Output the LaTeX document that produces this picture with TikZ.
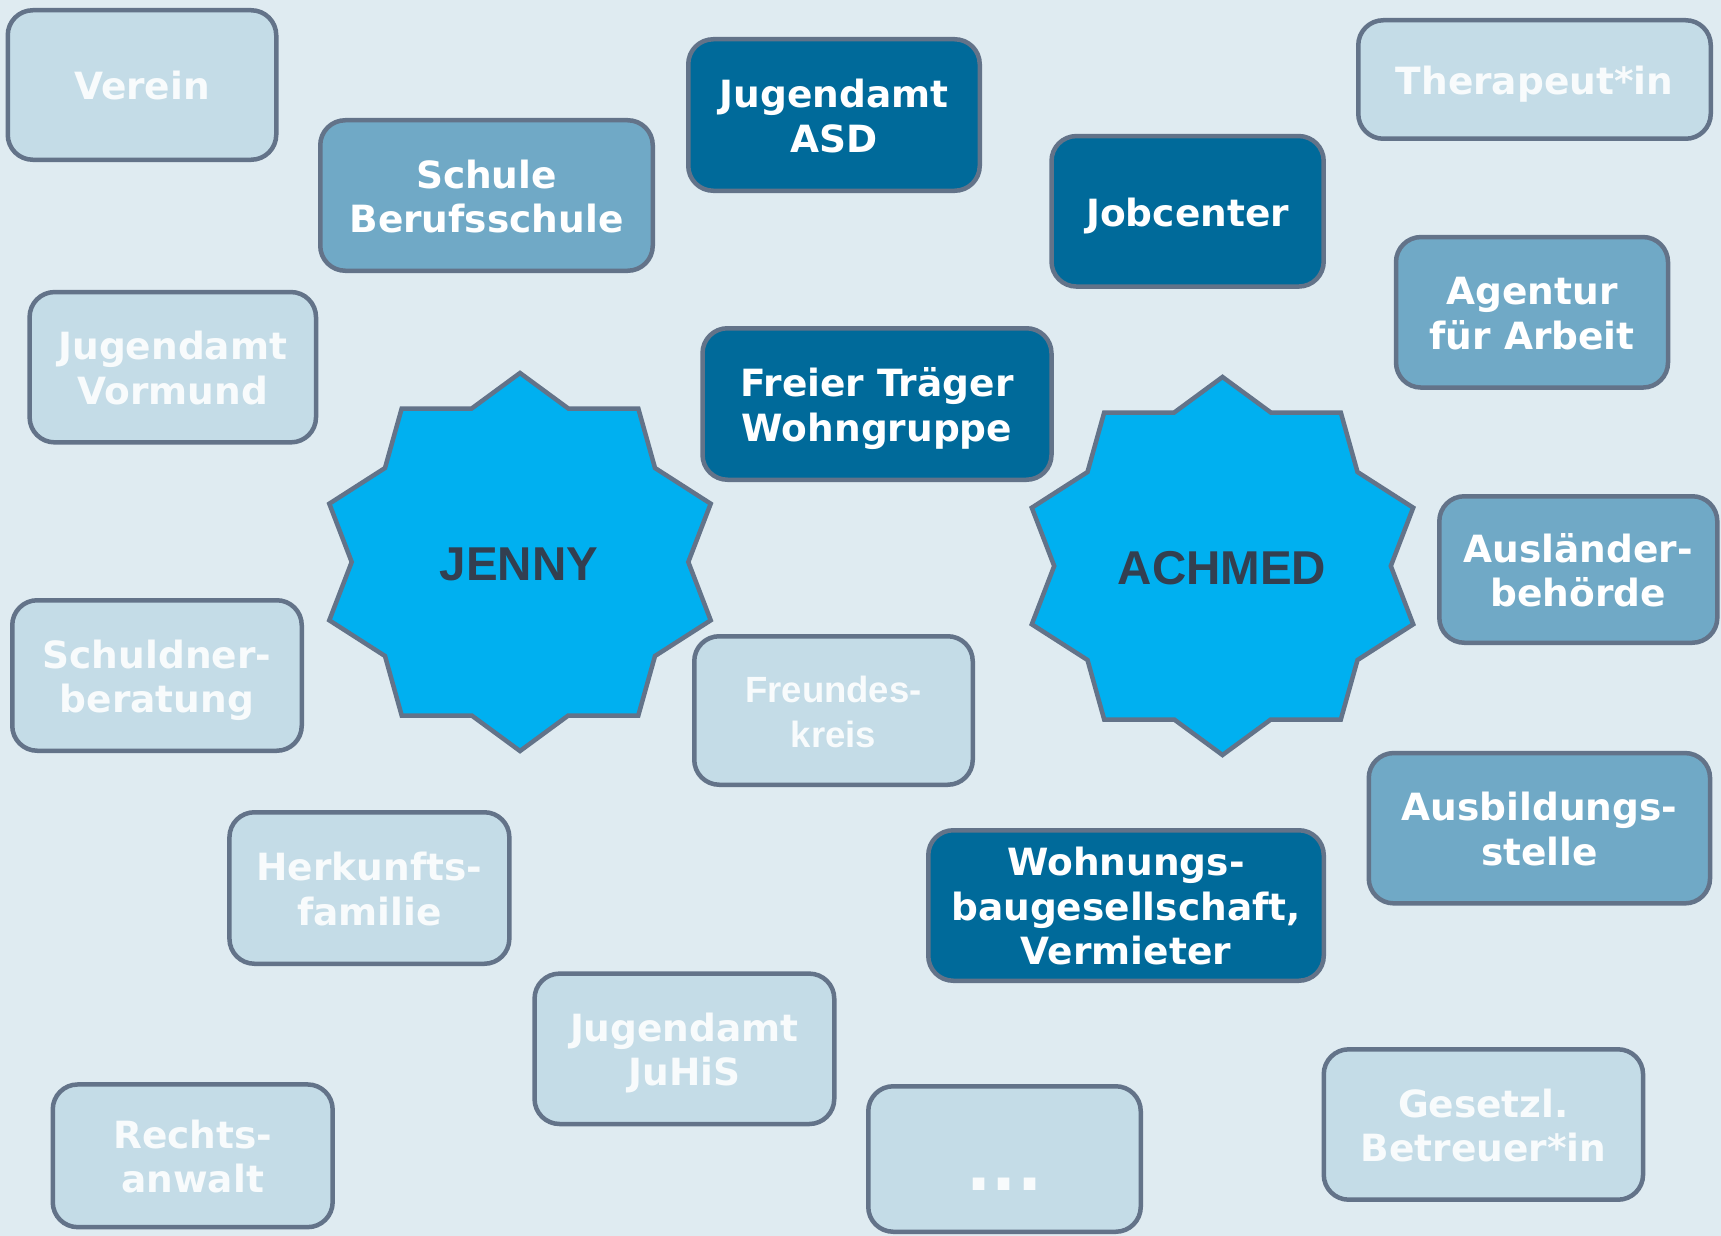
\documentclass[tikz,border=0pt]{standalone}
\usepackage{fontspec}
\setmainfont{DejaVu Sans}
\newfontfamily\arialfont{Liberation Sans}
\definecolor{bgc}{HTML}{DFEBF1}
\definecolor{lightc}{HTML}{C4DCE7}
\definecolor{midc}{HTML}{70A9C6}
\definecolor{darkc}{HTML}{006A9A}
\definecolor{bordc}{HTML}{637389}
\definecolor{starc}{HTML}{00B0F0}
\definecolor{startxt}{HTML}{333F50}
\definecolor{lighttxt}{HTML}{F8FBFC}
\newcommand\ml[1]{\vtop{\halign{\hfil##\hfil\cr#1\crcr}}}
\begin{document}
\begin{tikzpicture}[x=1pt,y=-1pt,
  box/.style={draw=bordc, line width=4.5pt, rounded corners=25pt, inner sep=0pt,
    font=\bfseries\fontsize{37.5}{44.5}\selectfont},
  lightbox/.style={box, fill=lightc, text=lighttxt},
  midbox/.style={box, fill=midc, text=white},
  darkbox/.style={box, fill=darkc, text=white},
  lone/.style={text height=64.85pt, text depth=35.15pt},
  ltwo/.style={text height=42.6pt, text depth=57.4pt},
  lthree/.style={text height=20.35pt, text depth=79.65pt},
  starsty/.style={draw=bordc, line width=4.5pt, fill=starc, line join=miter},
  startext/.style={text=startxt, inner sep=0pt, text height=67pt, text depth=33pt,
    font=\arialfont\bfseries\fontsize{47.5}{55}\selectfont}]
\useasboundingbox (0,0) rectangle (1721,1236);
\fill[bgc] (0,0) rectangle (1721,1236);

% stars
\foreach \cx/\cy in {520/562, 1222.5/566}{
  \draw[starsty, shift={(\cx,\cy)}]
    (0,-189) -- (48.3,-153.5) -- (118.3,-153.5) -- (135,-94) -- (190.7,-58.3)
    -- (168.3,0) -- (190.7,58.3) -- (135,94) -- (118.3,153.5) -- (48.3,153.5)
    -- (0,189) -- (-48.3,153.5) -- (-118.3,153.5) -- (-135,94) -- (-190.7,58.3)
    -- (-168.3,0) -- (-190.7,-58.3) -- (-135,-94) -- (-118.3,-153.5) -- (-48.3,-153.5)
    -- cycle;
}
\node[startext] (jenny) at (519,563) {JENNY};
\node[startext] (achmed) at (1222,567) {ACHMED};

% boxes
\node[lightbox, lone, minimum width=268.5pt, minimum height=149.5pt] (verein) at (142,85) {\ml{Verein}};
\node[midbox, ltwo, minimum width=332.5pt, minimum height=150.5pt] (schule) at (486.5,195.5) {\ml{Schule\cr Berufsschule}};
\node[darkbox, ltwo, minimum width=291.5pt, minimum height=151.5pt] (asd) at (834,115) {\ml{Jugendamt\cr ASD}};
\node[darkbox, lone, minimum width=272.2pt, minimum height=150.5pt] (jobcenter) at (1187.6,211.3) {\ml{Jobcenter}};
\node[lightbox, lone, minimum width=352.5pt, minimum height=118.5pt] (therapeut) at (1534.5,79.5) {\ml{Therapeut*in}};
\node[midbox, ltwo, minimum width=272pt, minimum height=150.5pt] (agentur) at (1532,312.3) {\ml{Agentur\cr für Arbeit}};
\node[lightbox, ltwo, minimum width=286.4pt, minimum height=150.3pt] (vormund) at (172.8,367.2) {\ml{Jugendamt\cr Vormund}};
\node[darkbox, ltwo, minimum width=349pt, minimum height=151.5pt] (traeger) at (877,404) {\ml{Freier Träger\cr Wohngruppe}};
\node[midbox, ltwo, minimum width=278pt, minimum height=146.5pt] (auslaender) at (1578.3,569.5) {\ml{Ausländer-\cr behörde}};
\node[lightbox, ltwo, minimum width=289.5pt, minimum height=150.5pt] (schuldner) at (157,675.5) {\ml{Schuldner-\cr beratung}};
\node[lightbox, text height=41.8pt, text depth=58.2pt, minimum width=278.5pt, minimum height=148.5pt,
  font=\arialfont\bfseries\fontsize{36.5}{45}\selectfont] (freundes) at (833.5,710.5) {\ml{Freundes-\cr kreis}};
\node[midbox, ltwo, minimum width=341.3pt, minimum height=150.3pt] (ausbildung) at (1539.4,828.2) {\ml{Ausbildungs-\cr stelle}};
\node[lightbox, ltwo, minimum width=279.9pt, minimum height=151.5pt] (herkunft) at (369.4,888) {\ml{Herkunfts-\cr familie}};
\node[darkbox, lthree, minimum width=395.5pt, minimum height=150.5pt] (wohnung) at (1126,905.5) {\ml{Wohnungs-\cr baugesellschaft,\cr Vermieter}};
\node[lightbox, ltwo, minimum width=299.7pt, minimum height=150.4pt] (juhis) at (684.4,1048.8) {\ml{Jugendamt\cr JuHiS}};
\node[lightbox, ltwo, minimum width=279.9pt, minimum height=142.7pt] (rechts) at (192.7,1155.8) {\ml{Rechts-\cr anwalt}};
\node[lightbox, text height=81.7pt, text depth=18.3pt, minimum width=272.5pt, minimum height=145.5pt,
  font=\bfseries\fontsize{66}{70}\selectfont] (dots) at (1004.5,1159) {...};
\node[lightbox, ltwo, minimum width=319.3pt, minimum height=150.4pt] (gesetzl) at (1483.4,1124.5) {\ml{Gesetzl.\cr Betreuer*in}};
\end{tikzpicture}
\end{document}
